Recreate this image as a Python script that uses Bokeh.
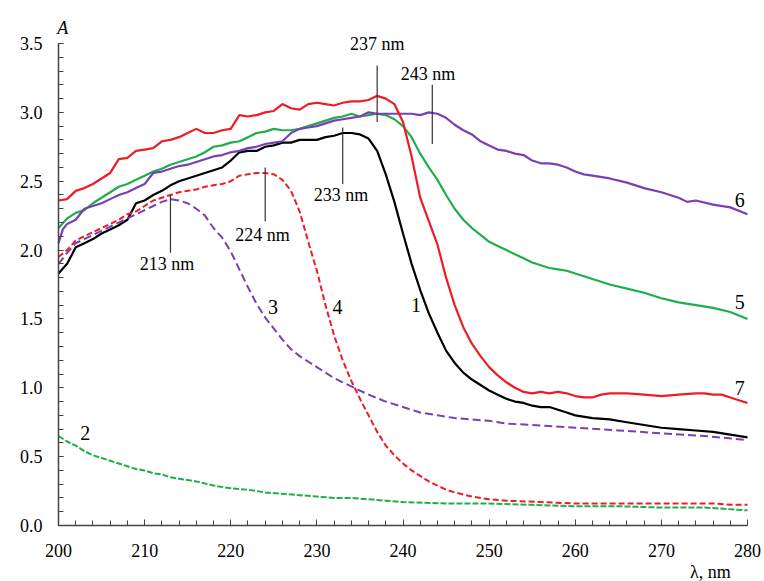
from bokeh.plotting import figure
from bokeh.models import (Range1d, FixedTicker, PrintfTickFormatter, LabelSet,
                          ColumnDataSource, Label)
from bokeh.core.properties import value
from bokeh.embed import file_html
from bokeh.resources import INLINE

# ---------------- data ----------------
wl7 = [200, 201, 202, 203, 204, 205, 206, 207, 208, 209, 210, 211, 212, 213, 214, 215, 216, 217, 218, 219,
       220, 221, 222, 223, 224, 225, 226, 227, 228, 229, 230, 231, 232, 233, 234, 235, 236, 237, 238, 239,
       240, 241, 242, 243, 244, 245, 246, 247, 248, 249, 250, 251, 252, 253, 254, 255, 256, 257, 258, 259,
       260, 261, 262, 263, 264, 266, 268, 270, 272, 274, 275, 276, 277, 278, 279, 280]
a7 = [2.36, 2.37, 2.43, 2.45, 2.48, 2.52, 2.56, 2.66, 2.67, 2.72, 2.73, 2.74, 2.79, 2.80, 2.82, 2.85, 2.88, 2.85, 2.85, 2.87,
      2.88, 2.98, 2.97, 2.98, 3.00, 3.01, 3.06, 3.03, 3.02, 3.06, 3.07, 3.06, 3.05, 3.07, 3.08, 3.08, 3.09, 3.12, 3.10, 3.06,
      2.93, 2.68, 2.38, 2.21, 2.04, 1.80, 1.60, 1.44, 1.32, 1.23, 1.15, 1.09, 1.04, 1.00, 0.97, 0.96, 0.97, 0.96, 0.97, 0.96,
      0.94, 0.93, 0.93, 0.95, 0.96, 0.96, 0.95, 0.94, 0.95, 0.96, 0.96, 0.95, 0.95, 0.93, 0.91, 0.89]

wl1 = [200, 201, 202, 203, 204, 205, 206, 207, 208, 209, 210, 211, 212, 213, 214, 215, 216, 217, 218, 219,
       220, 221, 222, 223, 224, 225, 226, 227, 228, 229, 230, 231, 232, 233, 234, 235, 236, 237, 238, 239,
       240, 241, 242, 243, 244, 245, 246, 247, 248, 249, 250, 251, 252, 253, 254, 255, 256, 257, 258, 259,
       260, 262, 264, 266, 268, 270, 272, 274, 276, 278, 280]
a1 = [1.83, 1.90, 2.02, 2.05, 2.08, 2.12, 2.15, 2.18, 2.22, 2.34, 2.36, 2.40, 2.43, 2.47, 2.50, 2.52, 2.54, 2.56, 2.58, 2.60,
      2.65, 2.71, 2.72, 2.72, 2.75, 2.76, 2.78, 2.78, 2.80, 2.80, 2.80, 2.82, 2.83, 2.85, 2.85, 2.84, 2.81, 2.72, 2.55, 2.35,
      2.12, 1.90, 1.71, 1.54, 1.40, 1.27, 1.18, 1.11, 1.06, 1.02, 0.98, 0.95, 0.92, 0.90, 0.89, 0.87, 0.86, 0.86, 0.84, 0.82,
      0.80, 0.78, 0.77, 0.75, 0.73, 0.71, 0.70, 0.69, 0.68, 0.66, 0.64]

wl5 = [200, 201, 202, 203, 204, 205, 206, 207, 208, 209, 210, 211, 212, 213, 214, 215, 216, 217, 218, 219,
       220, 221, 222, 223, 224, 225, 226, 227, 228, 229, 230, 231, 232, 233, 234, 235, 236, 237, 238, 239,
       240, 241, 242, 243, 244, 245, 246, 247, 248, 249, 250, 251, 252, 253, 254, 255, 256, 257, 258, 259,
       260, 262, 264, 266, 268, 270, 272, 274, 276, 278, 280]
a5 = [2.16, 2.23, 2.27, 2.29, 2.34, 2.38, 2.42, 2.46, 2.48, 2.51, 2.54, 2.57, 2.59, 2.62, 2.64, 2.66, 2.68, 2.71, 2.75, 2.76,
      2.78, 2.79, 2.82, 2.85, 2.86, 2.88, 2.87, 2.87, 2.88, 2.90, 2.92, 2.94, 2.96, 2.97, 2.99, 2.97, 2.98, 2.99, 2.98, 2.95,
      2.90, 2.82, 2.70, 2.60, 2.51, 2.40, 2.30, 2.22, 2.16, 2.11, 2.06, 2.03, 2.00, 1.97, 1.94, 1.91, 1.89, 1.87, 1.86, 1.85,
      1.83, 1.79, 1.75, 1.72, 1.69, 1.65, 1.62, 1.60, 1.58, 1.55, 1.50]

wl6 = [200, 200.5, 201, 202, 203, 204, 205, 206, 207, 208, 209, 210, 211, 212, 213, 214, 215, 216, 217, 218, 219,
       220, 221, 222, 223, 224, 225, 226, 227, 228, 229, 230, 231, 232, 233, 234, 235, 236, 237, 238, 239,
       240, 241, 242, 243, 244, 245, 246, 247, 248, 249, 250, 251, 252, 253, 254, 255, 256, 257, 258, 259,
       260, 261, 262, 264, 266, 268, 270, 272, 273, 274, 276, 278, 280]
a6 = [2.05, 2.15, 2.19, 2.22, 2.30, 2.32, 2.34, 2.37, 2.40, 2.42, 2.45, 2.48, 2.56, 2.57, 2.59, 2.61, 2.62, 2.64, 2.66, 2.68, 2.69,
      2.71, 2.72, 2.74, 2.75, 2.77, 2.78, 2.79, 2.85, 2.88, 2.89, 2.90, 2.92, 2.94, 2.95, 2.96, 2.97, 3.00, 2.99, 2.99, 2.99,
      2.99, 2.99, 2.98, 3.00, 2.99, 2.96, 2.91, 2.87, 2.84, 2.79, 2.76, 2.73, 2.72, 2.70, 2.69, 2.65, 2.63, 2.63, 2.62, 2.60,
      2.57, 2.55, 2.54, 2.52, 2.49, 2.45, 2.42, 2.38, 2.35, 2.36, 2.33, 2.31, 2.26]

wl4 = [200, 201, 202, 203, 204, 205, 206, 207, 208, 209, 210, 211, 212, 213, 214, 215, 216, 217, 218, 219,
       220, 221, 222, 223, 224, 225, 226, 227, 228, 229, 230, 231, 232, 233, 234, 235, 236, 237, 238, 239,
       240, 241, 242, 243, 244, 245, 246, 248, 250, 252, 256, 260, 270, 276, 278, 280]
a4 = [1.95, 2.00, 2.07, 2.10, 2.13, 2.16, 2.19, 2.22, 2.26, 2.28, 2.32, 2.36, 2.38, 2.40, 2.42, 2.43, 2.44, 2.46, 2.47, 2.48,
      2.50, 2.54, 2.55, 2.56, 2.56, 2.55, 2.51, 2.43, 2.28, 2.06, 1.85, 1.60, 1.38, 1.20, 1.05, 0.92, 0.80, 0.68, 0.58, 0.51,
      0.45, 0.40, 0.36, 0.32, 0.29, 0.26, 0.24, 0.21, 0.19, 0.18, 0.17, 0.16, 0.16, 0.16, 0.15, 0.15]

wl3 = [200, 201, 202, 203, 204, 205, 206, 207, 208, 209, 210, 211, 212, 213, 214, 215, 216, 217, 218, 219,
       220, 221, 222, 223, 224, 225, 226, 227, 228, 229, 230, 231, 232, 233, 234, 235, 236, 238, 240, 242,
       244, 246, 248, 250, 252, 255, 260, 265, 270, 275, 280]
a3 = [1.90, 1.98, 2.05, 2.08, 2.11, 2.14, 2.17, 2.20, 2.23, 2.26, 2.29, 2.32, 2.35, 2.37, 2.36, 2.34, 2.30, 2.25, 2.16, 2.09,
      1.99, 1.86, 1.73, 1.61, 1.51, 1.43, 1.35, 1.28, 1.23, 1.19, 1.15, 1.11, 1.07, 1.04, 1.01, 0.98, 0.95, 0.90, 0.86, 0.82,
      0.80, 0.78, 0.77, 0.76, 0.74, 0.73, 0.71, 0.69, 0.67, 0.65, 0.62]

wl2 = [200, 201, 202, 203, 204, 205, 206, 207, 208, 209, 210, 211, 212, 213, 214, 215, 216, 218, 220, 222,
       224, 226, 228, 230, 232, 234, 236, 238, 240, 245, 250, 255, 260, 265, 270, 275, 280]
a2 = [0.65, 0.61, 0.58, 0.54, 0.51, 0.49, 0.47, 0.45, 0.43, 0.41, 0.40, 0.38, 0.37, 0.35, 0.34, 0.33, 0.32, 0.29, 0.27, 0.26,
      0.24, 0.23, 0.22, 0.21, 0.20, 0.20, 0.19, 0.18, 0.17, 0.16, 0.16, 0.15, 0.14, 0.14, 0.13, 0.13, 0.11]

# peak markers
peak_wl = [213, 224, 233, 237, 243.4]
peak_top = [2.40, 2.60, 2.89, 3.34, 3.20]
peak_bot = [1.98, 2.21, 2.48, 2.93, 2.77]
peak_text = ["213 nm", "224 nm", "233 nm", "237 nm", "243 nm"]
peak_tx = [212.6, 223.7, 232.8, 237.0, 242.9]
peak_ty = [1.90, 2.11, 2.40, 3.50, 3.28]

# curve numbers
cn_text = ["1", "2", "3", "4", "5", "6", "7"]
cn_x = [241.5, 203.1, 224.9, 232.4, 279.1, 279.1, 279.1]
cn_y = [1.60, 0.67, 1.59, 1.59, 1.62, 2.36, 1.00]

# axis titles
ax_titles = ["λ, nm", "A"]
ax_tx = [275.7, 200.5]
ax_ty = [-0.34, 3.61]

x_ticks = [200, 210, 220, 230, 240, 250, 260, 270, 280]
y_ticks = [0.0, 0.5, 1.0, 1.5, 2.0, 2.5, 3.0, 3.5]

# ---------------- figure ----------------
RED = "#ee1c25"
GREEN = "#1fae4b"
PURPLE = "#7a3fb5"
SERIF = "Liberation Serif"

# frame covers the whole canvas; axes are pinned at A=0 and λ=200
W, H = 764, 581
PX_L, PX_R = 58, 747      # pixel positions of 200 and 280 nm
PY_0, PY_35 = 525, 43     # pixel positions of A=0 and A=3.5
sx = (PX_R - PX_L) / 80.0
sy = (PY_0 - PY_35) / 3.5
x0 = 200 - PX_L / sx
x1 = 280 + (W - PX_R) / sx
y0 = -(H - PY_0) / sy
y1 = PY_0 / sy

p = figure(width=W, height=H, output_backend="svg", toolbar_location=None,
           x_range=Range1d(x0, x1), y_range=Range1d(y0, y1),
           min_border_left=0, min_border_right=0, min_border_top=0, min_border_bottom=0)
p.outline_line_color = None
p.grid.visible = False
p.background_fill_color = "white"
p.border_fill_color = "white"

p.line(wl1, a1, line_color="black", line_width=2.2)
p.line(wl2, a2, line_color=GREEN, line_width=2, line_dash="6 2")
p.line(wl3, a3, line_color=PURPLE, line_width=2, line_dash="8 4")
p.line(wl4, a4, line_color=RED, line_width=2, line_dash="6 3")
p.line(wl5, a5, line_color=GREEN, line_width=2.2)
p.line(wl6, a6, line_color=PURPLE, line_width=2.2)
p.line(wl7, a7, line_color=RED, line_width=2.2)

p.segment(x0=peak_wl, y0=peak_bot, x1=peak_wl, y1=peak_top, line_color="#333333", line_width=1.2)

src_peak = ColumnDataSource(dict(x=peak_tx, y=peak_ty, t=peak_text))
p.add_layout(LabelSet(x="x", y="y", text="t", source=src_peak, text_font=value(SERIF),
                      text_font_size="18px", text_align="center", text_baseline="middle",
                      text_color="black"))
src_cn = ColumnDataSource(dict(x=cn_x, y=cn_y, t=cn_text))
p.add_layout(LabelSet(x="x", y="y", text="t", source=src_cn, text_font=value(SERIF),
                      text_font_size="20px", text_align="center", text_baseline="middle",
                      text_color="black"))

p.add_layout(Label(x=ax_tx[0], y=ax_ty[0], text=ax_titles[0], text_font=SERIF, text_font_size="18px",
                   text_align="center", text_baseline="middle", text_color="black"))
p.add_layout(Label(x=ax_tx[1], y=ax_ty[1], text=ax_titles[1], text_font=SERIF, text_font_size="18px",
                   text_font_style="italic", text_align="center", text_baseline="middle",
                   text_color="black"))

# axes
xa = p.xaxis[0]
xa.fixed_location = 0
xa.bounds = (200, 280)
xa.ticker = FixedTicker(ticks=x_ticks, minor_ticks=list(range(200, 281, 2)))
xa.major_label_text_font = SERIF
xa.major_label_text_font_size = "18px"
xa.major_label_text_color = "black"
xa.major_label_standoff = 18
xa.major_tick_in = 6
xa.major_tick_out = 0
xa.minor_tick_in = 5
xa.minor_tick_out = 0
xa.axis_line_color = "#444444"
xa.axis_line_width = 1.5
xa.major_tick_line_color = "#444444"
xa.minor_tick_line_color = "#444444"

ya = p.yaxis[0]
ya.fixed_location = 200
ya.bounds = (0, 3.5)
ya.ticker = FixedTicker(ticks=y_ticks, minor_ticks=[i / 10 for i in range(0, 36)])
ya.formatter = PrintfTickFormatter(format="%.1f")
ya.major_label_text_font = SERIF
ya.major_label_text_font_size = "18px"
ya.major_label_text_color = "black"
ya.major_label_standoff = 16
ya.major_tick_in = 5
ya.major_tick_out = 0
ya.minor_tick_in = 5
ya.minor_tick_out = 0
ya.axis_line_color = "#444444"
ya.axis_line_width = 1.5
ya.major_tick_line_color = "#444444"
ya.minor_tick_line_color = "#444444"

open("out.html", "w").write(file_html(p, INLINE))
